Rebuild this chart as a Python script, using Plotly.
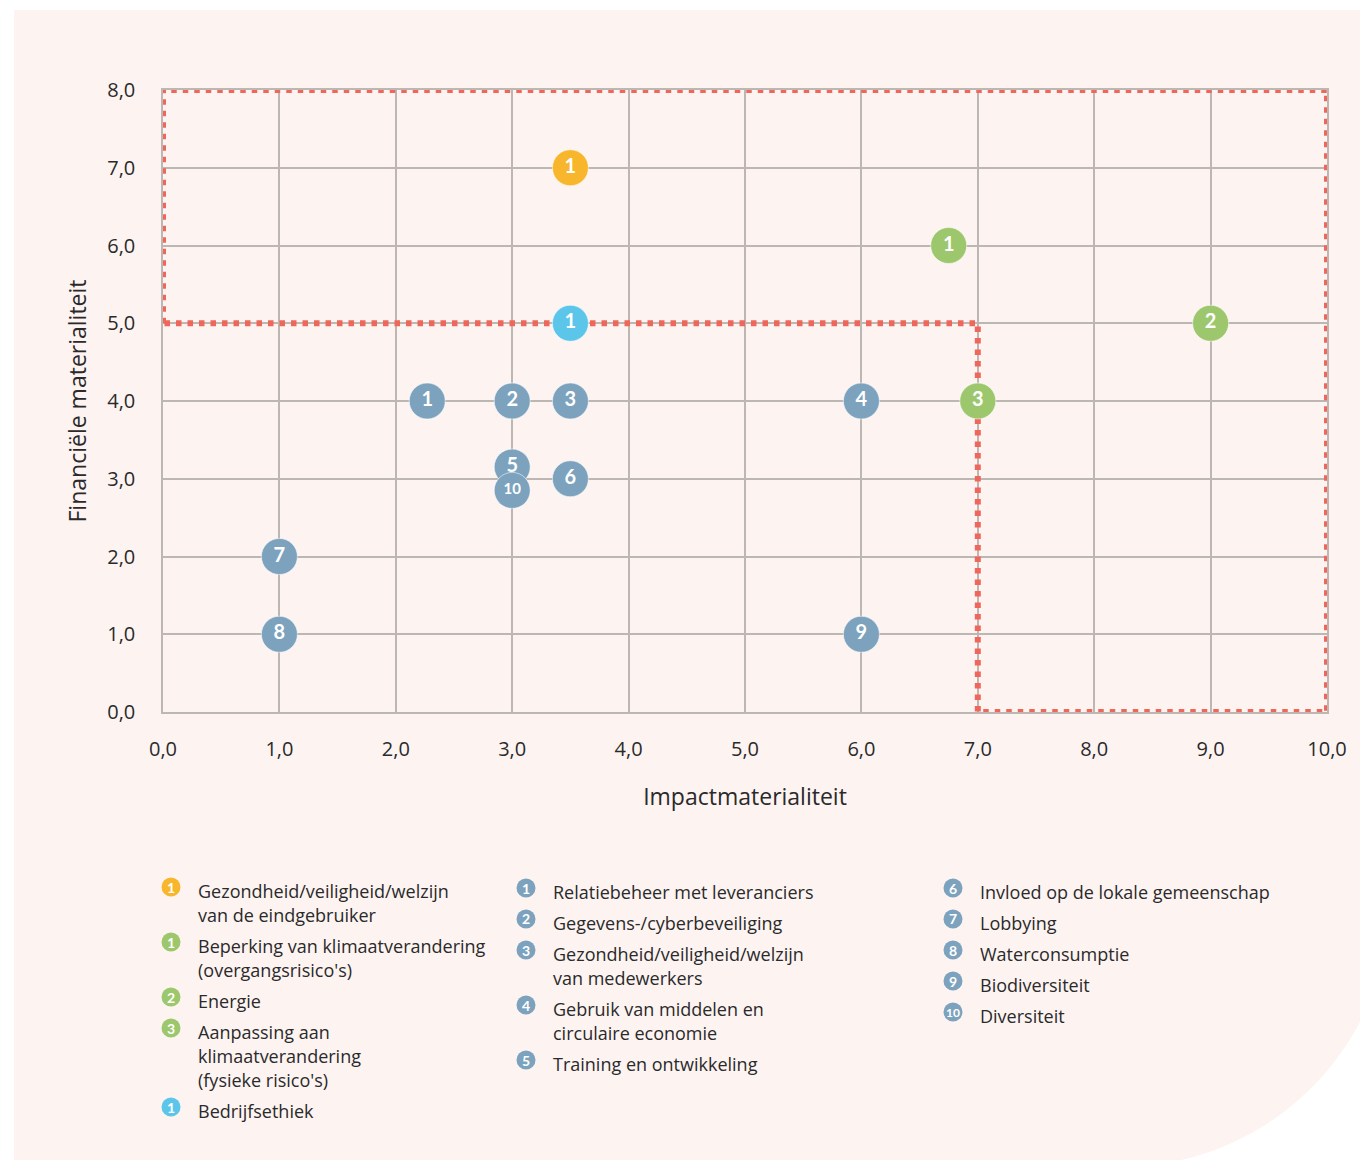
import plotly.graph_objects as go

# ---- materiality scores (x = impact, y = financial) ----
yellow_labels = ["1"]
yellow_x = [3.5]
yellow_y = [7.0]

green_labels = ["1", "2", "3"]
green_x = [6.75, 9.0, 7.0]
green_y = [6.0, 5.0, 4.0]

cyan_labels = ["1"]
cyan_x = [3.5]
cyan_y = [5.0]

blue_labels = ["1", "2", "3", "4", "5", "6", "7", "8", "9", "10"]
blue_x = [2.27, 3.0, 3.5, 6.0, 3.0, 3.5, 1.0, 1.0, 6.0, 3.0]
blue_y = [4.0, 4.0, 4.0, 4.0, 3.15, 3.0, 2.0, 1.0, 1.0, 2.85]

# threshold outline of the material zone
zone_x = [0, 0, 10, 10, 7, 7, 0]
zone_y = [5, 8, 8, 0, 0, 5, 5]

x_ticks = [0, 1, 2, 3, 4, 5, 6, 7, 8, 9, 10]
y_ticks = [0, 1, 2, 3, 4, 5, 6, 7, 8]

# legend columns: (colour, number, text lines)
legend_col1 = [
    ("yellow", "1", ["Gezondheid/veiligheid/welzijn", "van de eindgebruiker"]),
    ("green", "1", ["Beperking van klimaatverandering", "(overgangsrisico's)"]),
    ("green", "2", ["Energie"]),
    ("green", "3", ["Aanpassing aan", "klimaatverandering", "(fysieke risico's)"]),
    ("cyan", "1", ["Bedrijfsethiek"]),
]
legend_col2 = [
    ("blue", "1", ["Relatiebeheer met leveranciers"]),
    ("blue", "2", ["Gegevens-/cyberbeveiliging"]),
    ("blue", "3", ["Gezondheid/veiligheid/welzijn", "van medewerkers"]),
    ("blue", "4", ["Gebruik van middelen en", "circulaire economie"]),
    ("blue", "5", ["Training en ontwikkeling"]),
]
legend_col3 = [
    ("blue", "6", ["Invloed op de lokale gemeenschap"]),
    ("blue", "7", ["Lobbying"]),
    ("blue", "8", ["Waterconsumptie"]),
    ("blue", "9", ["Biodiversiteit"]),
    ("blue", "10", ["Diversiteit"]),
]

COLORS = {
    "yellow": "#f8b62d",
    "green": "#9cc76c",
    "cyan": "#5cc6ea",
    "blue": "#7ca2be",
}
ZONE_RED = "#ef675b"
GRID = "#bdb7b4"
PANEL = "#fdf4f2"
TEXT = "#2a2a2a"
FONT = "'Open Sans', Lato, sans-serif"
NUM_FONT = "Lato, 'Open Sans', sans-serif"

W, H = 1360, 1160
L, R, T, B = 163, 33, 90, 448
PW, PH = W - L - R, H - T - B


def px(xp):
    return (xp - L) / PW


def py(yp):
    return (H - B - yp) / PH


fig = go.Figure()

fig.add_trace(go.Scatter(
    x=zone_x, y=zone_y, mode="lines",
    line=dict(color=ZONE_RED, width=6, dash="5.5px,6px"),
    hoverinfo="skip", showlegend=False,
))


def bubbles(xs, ys, labels, color):
    sizes = [15 if len(t) > 1 else 20 for t in labels]
    fig.add_trace(go.Scatter(
        x=xs, y=ys, text=labels, mode="markers+text",
        marker=dict(size=36, color=color,
                    line=dict(width=1, color="rgba(255,255,255,0.55)")),
        textposition="middle center",
        textfont=dict(family=NUM_FONT, size=sizes, color="white", weight="bold"),
        cliponaxis=False, showlegend=False,
    ))


bubbles(blue_x, blue_y, blue_labels, COLORS["blue"])
bubbles(green_x, green_y, green_labels, COLORS["green"])
bubbles(cyan_x, cyan_y, cyan_labels, COLORS["cyan"])
bubbles(yellow_x, yellow_y, yellow_labels, COLORS["yellow"])

# background panel with a large rounded lower-right corner
k = 0.5523 * 271
x0, y0, xr, yb, cx, cy = 14, 10, 1391, 1167, 1120, 896
panel_path = (
    f"M {px(x0)},{py(y0)} L {px(xr)},{py(y0)} L {px(xr)},{py(cy)} "
    f"C {px(xr)},{py(cy + k)} {px(cx + k)},{py(yb)} {px(cx)},{py(yb)} "
    f"L {px(x0)},{py(yb)} Z"
)
shapes = [dict(type="path", xref="paper", yref="paper", path=panel_path,
               fillcolor=PANEL, line=dict(width=0), layer="below")]

annotations = []
LINE_H, ITEM_GAP = 24, 31


def legend_column(items, icon_x, text_x, first_y):
    y = first_y
    for color, num, lines in items:
        r = 9.5
        shapes.append(dict(
            type="circle", xref="paper", yref="paper",
            x0=px(icon_x - r), x1=px(icon_x + r),
            y0=py(y - 4 + r), y1=py(y - 4 - r),
            fillcolor=COLORS[color], line=dict(width=0),
        ))
        annotations.append(dict(
            xref="paper", yref="paper", x=px(icon_x), y=py(y - 4),
            text=f"<b>{num}</b>", showarrow=False,
            xanchor="center", yanchor="middle",
            font=dict(family=NUM_FONT, size=12 if len(num) > 1 else 14, color="white"),
        ))
        for i, line in enumerate(lines):
            annotations.append(dict(
                xref="paper", yref="paper", x=px(text_x), y=py(y + i * LINE_H),
                text=line, showarrow=False, xanchor="left", yanchor="middle",
                font=dict(family=FONT, size=18, color=TEXT),
            ))
        y += (len(lines) - 1) * LINE_H + ITEM_GAP


legend_column(legend_col1, 171, 196, 891)
legend_column(legend_col2, 526, 551, 892)
legend_column(legend_col3, 953, 978, 892)

axis_common = dict(
    showgrid=True, gridcolor=GRID, gridwidth=1.5,
    showline=True, linecolor=GRID, linewidth=1.5, mirror=True,
    zeroline=False, ticks="", tickformat=".1f",
    tickfont=dict(family=FONT, size=20, color=TEXT),
)

fig.update_layout(
    width=W, height=H,
    margin=dict(l=L, r=R, t=T, b=B, autoexpand=False),
    paper_bgcolor="white", plot_bgcolor="rgba(0,0,0,0)",
    separators=",.",
    xaxis=dict(axis_common, range=[0, 10], tickvals=x_ticks,
               ticklabelstandoff=18,
               title=dict(text="Impactmaterialiteit", standoff=28,
                          font=dict(family=FONT, size=23, color=TEXT))),
    yaxis=dict(axis_common, range=[0, 8], tickvals=y_ticks,
               ticklabelstandoff=22,
               title=dict(text="Financiële materialiteit", standoff=14,
                          font=dict(family=FONT, size=23, color=TEXT))),
    shapes=shapes,
    annotations=annotations,
    showlegend=False,
)

fig.write_html("out.html")
